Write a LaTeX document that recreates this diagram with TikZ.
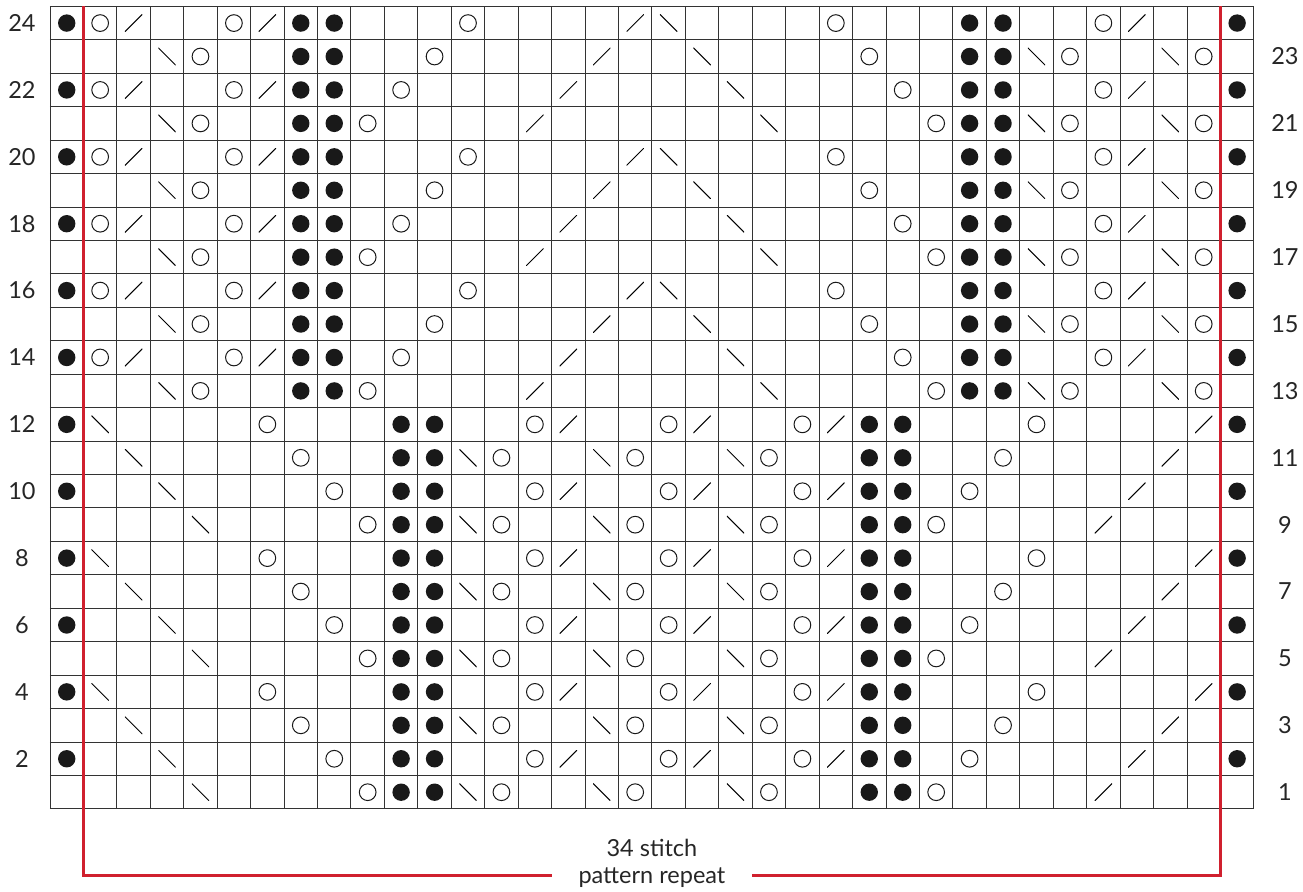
\documentclass[tikz,border=0pt]{standalone}
\usepackage{fontspec}
\setmainfont{Lato}

\definecolor{repeatred}{HTML}{D0202E}
\definecolor{gridgray}{HTML}{333333}

% stitches of each row kind: column/symbol
\newcommand\rowA{1/purl,2/yo,3/ktog,6/yo,7/ktog,8/purl,9/purl,13/yo,18/ktog,19/ssk,24/yo,28/purl,29/purl,32/yo,33/ktog,36/purl}
\newcommand\rowB{4/ssk,5/yo,8/purl,9/purl,12/yo,17/ktog,20/ssk,25/yo,28/purl,29/purl,30/ssk,31/yo,34/ssk,35/yo}
\newcommand\rowC{1/purl,2/yo,3/ktog,6/yo,7/ktog,8/purl,9/purl,11/yo,16/ktog,21/ssk,26/yo,28/purl,29/purl,32/yo,33/ktog,36/purl}
\newcommand\rowD{4/ssk,5/yo,8/purl,9/purl,10/yo,15/ktog,22/ssk,27/yo,28/purl,29/purl,30/ssk,31/yo,34/ssk,35/yo}
\newcommand\rowE{1/purl,2/ssk,7/yo,11/purl,12/purl,15/yo,16/ktog,19/yo,20/ktog,23/yo,24/ktog,25/purl,26/purl,30/yo,35/ktog,36/purl}
\newcommand\rowF{3/ssk,8/yo,11/purl,12/purl,13/ssk,14/yo,17/ssk,18/yo,21/ssk,22/yo,25/purl,26/purl,29/yo,34/ktog}
\newcommand\rowG{1/purl,4/ssk,9/yo,11/purl,12/purl,15/yo,16/ktog,19/yo,20/ktog,23/yo,24/ktog,25/purl,26/purl,28/yo,33/ktog,36/purl}
\newcommand\rowH{5/ssk,10/yo,11/purl,12/purl,13/ssk,14/yo,17/ssk,18/yo,21/ssk,22/yo,25/purl,26/purl,27/yo,32/ktog}

\begin{document}
\begin{tikzpicture}[
          gridline/.style={draw=gridgray, line width=0.8pt},
          purl/.style={circle, fill=black!90, inner sep=0pt, minimum size=0.52cm},
          yo/.style={circle, draw=black!90, line width=0.85pt, inner sep=0pt, minimum size=0.5cm},
          slant/.style={inner sep=0pt, minimum size=0.52cm},
          ktog/.style={slant, path picture={\draw[line width=0.85pt]
              (path picture bounding box.south west) -- (path picture bounding box.north east);}},
          ssk/.style={slant, path picture={\draw[line width=0.85pt]
              (path picture bounding box.north west) -- (path picture bounding box.south east);}},
          rownum/.style={font=\fontsize{20}{23}\selectfont, text=black!85},
          repeatline/.style={draw=repeatred, line width=2.4pt}
        ]
        \useasboundingbox (-1.495,-2.482) rectangle (37.47,24.19);

        \draw[gridline] (0,0) grid (36,24);
        \draw[gridline] (0,0) rectangle (36,24);

        \foreach \r/\kind in {24/A,23/B,22/C,21/D,20/A,19/B,18/C,17/D,16/A,15/B,14/C,13/D,
                              12/E,11/F,10/G,9/H,8/E,7/F,6/G,5/H,4/E,3/F,2/G,1/H}{
          \expandafter\let\expandafter\pat\csname row\kind\endcsname
          \foreach \c/\s in \pat
            \node[\s] (st-\r-\c) at (\c-0.5,\r-0.5) {};
        }

        % row numbers
        \foreach \r in {2,4,...,24}
          \node[rownum] (num-\r) at (-0.84,\r-0.5) {\r};
        \foreach \r in {1,3,...,23}
          \node[rownum] (num-\r) at (36.93,\r-0.5) {\r};

        % repeat bracket
        \node[rownum, align=center, inner sep=0pt] (rep) at (18,-1.63)
             {34 stitch\\pattern repeat};
        \coordinate (lefttop)  at (1,24);
        \coordinate (righttop) at (35,24);
        \coordinate (leftend)  at (15,-2);
        \coordinate (rightend) at (21,-2);
        \draw[repeatline] (leftend) -| (lefttop);
        \draw[repeatline] (rightend) -| (righttop);
      \end{tikzpicture}
\end{document}
